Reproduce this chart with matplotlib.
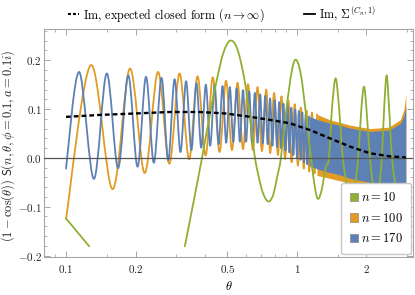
import numpy as np
import matplotlib.pyplot as plt
from matplotlib.lines import Line2D
from matplotlib.patches import Patch, PathPatch
from matplotlib.path import Path

plt.rcParams['font.family'] = 'serif'
plt.rcParams['font.serif'] = ['cmr10']
plt.rcParams['mathtext.fontset'] = 'cm'
plt.rcParams['axes.formatter.use_mathtext'] = True

nan = np.nan

# expected closed form (n -> infinity)
closed_t = [0.10, 0.14, 0.20, 0.28, 0.38, 0.49, 0.63, 0.76, 0.93, 1.14, 1.39, 1.70, 2.07, 2.53, 2.96]
closed_y = [0.084, 0.088, 0.091, 0.094, 0.094, 0.091, 0.084, 0.078, 0.071, 0.057, 0.040, 0.023, 0.0095, 0.003, 0.001]

# n = 10 (leaves the plot range below -0.18)
green_t = [0.100, 0.126, nan, 0.327, 0.355, 0.388, 0.42, 0.45, 0.48, 0.513, 0.55, 0.59, 0.625, 0.658,
           0.70, 0.73, 0.759, 0.79, 0.82, 0.852, 0.90, 0.95, 0.99, 1.04, 1.10, 1.15, 1.20, 1.236,
           1.28, 1.33, 1.375, 1.42, 1.47, 1.52, 1.58, 1.65, 1.71, 1.78, 1.84, 1.90, 1.95, 2.00,
           2.07, 2.14, 2.20, 2.27, 2.33, 2.39, 2.445, 2.50, 2.58, 2.70, 2.85, 2.96]
green_y = [-0.124, -0.181, nan, -0.181, -0.095, 0.0, 0.09, 0.16, 0.215, 0.240, 0.225, 0.165, 0.085, 0.0,
           -0.060, -0.083, -0.089, -0.075, -0.040, 0.0, 0.100, 0.178, 0.201, 0.170, 0.080, 0.0, -0.065, -0.084,
           -0.065, -0.020, 0.0, 0.105, 0.163, 0.105, 0.0, -0.060, -0.080, -0.060, 0.0, 0.100, 0.146, 0.100,
           0.0, -0.060, -0.080, -0.060, 0.0, 0.110, 0.169, 0.110, 0.0, -0.07, -0.10, -0.10]

# n = 100, resolved oscillation (start, peaks, troughs)
orange_start = (0.100, -0.125)
orange_peak_t = [0.128, 0.189, 0.250, 0.310, 0.371, 0.432, 0.493, 0.553, 0.614, 0.675, 0.736, 0.796, 0.857,
                 0.918, 0.978, 1.039, 1.100, 1.161, 1.221]
orange_peak_y = [0.190, 0.183, 0.176, 0.173, 0.167, 0.165, 0.158, 0.154, 0.151, 0.145, 0.140, 0.133, 0.126,
                 0.118, 0.110, 0.103, 0.097, 0.093, 0.089]
orange_trough_t = [0.159, 0.219, 0.280, 0.341, 0.402, 0.462, 0.523, 0.584, 0.644, 0.705, 0.766, 0.827,
                   0.888, 0.948, 1.009, 1.070, 1.130, 1.191]
orange_trough_y = [-0.064, -0.031, -0.012, -0.003, 0.005, 0.012, 0.016, 0.018, 0.016, 0.014, 0.010, 0.006,
                   -0.002, -0.009, -0.016, -0.022, -0.028, -0.032]
# n = 100, envelope where the oscillation is too dense to resolve
orange_band_t = [1.221, 1.39, 1.70, 2.07, 2.50, 2.80, 2.90, 2.96]
orange_band_hi = [0.089, 0.078, 0.067, 0.060, 0.063, 0.078, 0.098, 0.129]
orange_band_lo = [-0.036, -0.042, -0.052, -0.060, -0.066, -0.070, -0.072, -0.075]

# n = 170
blue_start = (0.100, -0.022)
blue_peak_t = [0.114, 0.150, 0.186, 0.222, 0.259, 0.295, 0.331, 0.367, 0.403, 0.440, 0.476,
               0.512, 0.548, 0.584, 0.621, 0.657, 0.693, 0.729, 0.765, 0.802, 0.838,
               0.874, 0.910, 0.946, 0.983, 1.019, 1.055, 1.091, 1.127]
blue_peak_y = [0.176, 0.173, 0.169, 0.166, 0.164, 0.161, 0.157, 0.153, 0.150, 0.149, 0.147,
               0.145, 0.142, 0.139, 0.136, 0.133, 0.130, 0.127, 0.122, 0.118, 0.114,
               0.111, 0.107, 0.103, 0.099, 0.096, 0.093, 0.089, 0.085]
blue_trough_t = [0.132, 0.168, 0.204, 0.240, 0.277, 0.313, 0.349, 0.385, 0.421, 0.458,
                 0.494, 0.530, 0.566, 0.602, 0.639, 0.675, 0.711, 0.747, 0.783, 0.820,
                 0.856, 0.892, 0.928, 0.965, 1.001, 1.037, 1.073, 1.109]
blue_trough_y = [-0.043, -0.021, -0.018, -0.010, -0.005, 0.012, 0.016, 0.021, 0.025, 0.028,
                 0.031, 0.033, 0.033, 0.033, 0.032, 0.031, 0.030, 0.028, 0.025, 0.022,
                 0.019, 0.015, 0.011, 0.006, 0.001, -0.004, -0.009, -0.013]
blue_band_t = [1.127, 1.25, 1.39, 1.49, 1.70, 2.07, 2.50, 2.80, 2.90, 2.96]
blue_band_hi = [0.085, 0.077, 0.071, 0.068, 0.061, 0.054, 0.057, 0.070, 0.085, 0.105]
blue_band_lo = [-0.016, -0.024, -0.030, -0.033, -0.042, -0.050, -0.058, -0.065, -0.068, -0.070]

c_green = '#8fb032'
c_orange = '#e19c24'
c_blue = '#5e81b5'


def merge(start, pt, py, tt, ty):
    pts = [start] + list(zip(pt, py)) + list(zip(tt, ty))
    pts.sort()
    return [p[0] for p in pts], [p[1] for p in pts]


def smooth_path(t, y):
    # smooth curve through the read points (Catmull-Rom as cubic Bezier, in log-x space)
    t = np.asarray(t, float)
    y = np.asarray(y, float)
    verts, codes = [], []
    breaks = np.where(np.isnan(t))[0]
    for seg in np.split(np.arange(len(t)), breaks):
        seg = seg[~np.isnan(t[seg])]
        p = np.column_stack([np.log10(t[seg]), y[seg]])
        e = np.vstack([p[0], p, p[-1]])
        verts.append(p[0])
        codes.append(Path.MOVETO)
        for i in range(len(p) - 1):
            verts += [p[i] + (e[i + 2] - e[i]) / 6, p[i + 1] - (e[i + 3] - e[i + 1]) / 6, p[i + 1]]
            codes += [Path.CURVE4] * 3
    verts = np.array(verts)
    verts[:, 0] = 10 ** verts[:, 0]
    return Path(verts, codes)


def curve(ax, t, y, color, z):
    ax.add_patch(PathPatch(smooth_path(t, y), facecolor='none', edgecolor=color, lw=1.3,
                           capstyle='round', joinstyle='round', zorder=z))


fig = plt.figure(figsize=(4.15, 2.95), dpi=100)
ax = fig.add_axes([44 / 415, 38 / 295, 369 / 415, 228 / 295])
ax.set_xscale('log')

ot, oy = merge(orange_start, orange_peak_t, orange_peak_y, orange_trough_t, orange_trough_y)
curve(ax, ot, oy, c_orange, 2)
ax.fill_between(orange_band_t, orange_band_lo, orange_band_hi, color=c_orange, lw=0, zorder=2)

bt, by = merge(blue_start, blue_peak_t, blue_peak_y, blue_trough_t, blue_trough_y)
curve(ax, bt, by, c_blue, 3)
ax.fill_between(blue_band_t, blue_band_lo, blue_band_hi, color=c_blue, lw=0, zorder=3)

curve(ax, green_t, green_y, c_green, 4)
ax.axhline(0, color='#555555', lw=0.9, zorder=5)
ax.plot(closed_t, closed_y, color='black', lw=1.7, ls=(0, (2.0, 1.3)), zorder=6)

ax.set_xlim(0.0803, 3.18)
ax.set_ylim(-0.203, 0.264)

ax.set_xticks([0.1, 0.2, 0.5, 1, 2], labels=['$0.1$', '$0.2$', '$0.5$', '$1$', '$2$'])
ax.set_xticks([0.09, 0.15, 0.3, 0.4, 0.6, 0.7, 0.8, 0.9, 1.5, 3], minor=True)
ax.xaxis.set_minor_formatter(plt.NullFormatter())
ax.set_yticks([-0.2, -0.1, 0.0, 0.1, 0.2], labels=['$-0.2$', '$-0.1$', '$0.0$', '$0.1$', '$0.2$'])
ax.set_yticks(np.arange(-0.2, 0.261, 0.02), minor=True)

for s in ax.spines.values():
    s.set_color('#a6a6a6')
    s.set_linewidth(0.8)
ax.tick_params(which='both', direction='in', top=True, right=True, color='#a6a6a6',
               labelsize=8, labelcolor='#222222')
ax.tick_params(axis='x', pad=4)
ax.tick_params(axis='y', pad=1.5)
ax.tick_params(which='major', length=4, width=0.7)
ax.tick_params(which='minor', length=2, width=0.6)

ax.set_xlabel(r'$\theta$', fontsize=9, labelpad=4)
fig.text(8.5 / 415, 1 - 146 / 295, r'$(1-\cos(\theta))\ \mathsf{S}(n,\theta,\phi=0.1,a=0.1i)$',
         fontsize=9, rotation=90, ha='center', va='center', color='#222222')

top_handles = [Line2D([], [], color='black', lw=1.5, ls=(0, (1.4, 1.0))),
               Line2D([], [], color='black', lw=1.3)]
fig.legend(top_handles, [r'Im, expected closed form $(n\rightarrow\infty)$', r'Im, $\Sigma^{(C_n,1)}$'],
           loc='center', bbox_to_anchor=(0.535, 1 - 14 / 295), ncol=2, frameon=False,
           fontsize=8.7, handlelength=0.9, handletextpad=0.35, columnspacing=3.3)

n_handles = [Patch(facecolor=c, edgecolor='#777777', lw=0.4) for c in (c_green, c_orange, c_blue)]
leg = ax.legend(n_handles, ['$n=10$', '$n=100$', '$n=170$'], loc='lower right',
                bbox_to_anchor=(0.995, 0.013), fontsize=9, handlelength=0.65, handleheight=0.65,
                handletextpad=0.2, labelspacing=0.6, borderpad=0.7, borderaxespad=0.0,
                fancybox=True, framealpha=1, edgecolor='#c8c8c8')
leg.set_zorder(10)

fig.savefig('out.png', dpi=100)
